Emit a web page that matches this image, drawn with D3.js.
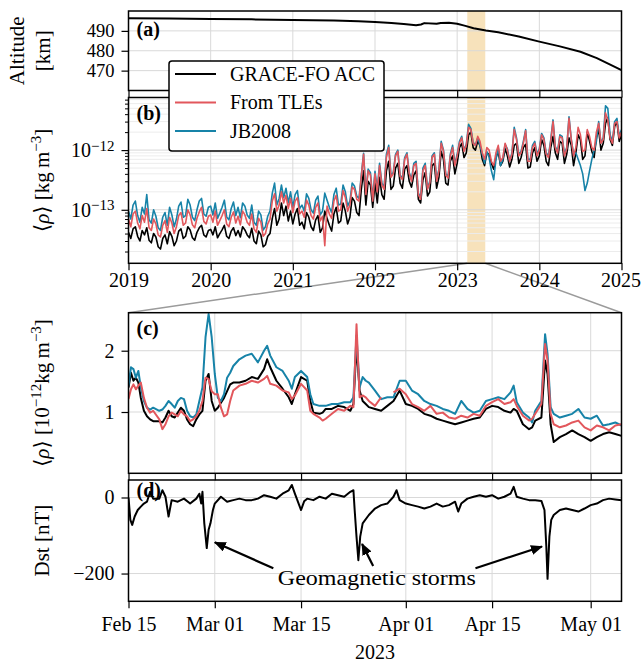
<!DOCTYPE html>
<html>
<head>
<meta charset="utf-8">
<script src="https://cdn.jsdelivr.net/npm/d3@7"></script>
<style>
  body { margin: 0; background: #fff; }
  svg { display: block; }
</style>
</head>
<body>
<script>
// ---- data ----
// (a) altitude, decimal year / km
var altYear = [2019.0, 2019.5, 2020.0, 2020.5, 2021.0, 2021.5, 2021.8, 2022.0, 2022.2, 2022.35,
               2022.5, 2022.56, 2022.6, 2022.75, 2022.8, 2022.9, 2023.0, 2023.1, 2023.2, 2023.35,
               2023.5, 2023.75, 2024.0, 2024.25, 2024.5, 2024.7, 2024.85, 2025.0];
var altKm = [496.4, 496.2, 496.0, 495.8, 495.5, 495.2, 494.9, 494.5, 494.0, 493.4,
             492.8, 493.2, 493.9, 493.6, 494.0, 494.1, 493.6, 492.5, 491.3, 490.2,
             489.3, 487.2, 484.6, 482.2, 479.5, 476.3, 473.3, 470.2];

// (b) orbit-averaged density, 1e-13 kg/m3, 36 samples per year from 2019.0 + end point
var bStart = 2019, bStep = 1 / 36;
var bGrace = [
  0.42,0.33,0.48,0.52,0.36,0.30,0.45,0.38,0.50,0.31,0.28,0.40,0.35,0.24,0.22,0.33,0.38,0.27,0.43,0.36,0.25,0.30,0.44,0.48,0.33,0.36,0.52,0.46,0.34,0.31,0.42,0.50,0.55,0.38,0.35,0.45,
  0.47,0.38,0.52,0.34,0.40,0.46,0.55,0.36,0.33,0.44,0.50,0.37,0.45,0.35,0.52,0.46,0.38,0.34,0.49,0.30,0.27,0.44,0.38,0.24,0.26,0.36,0.40,0.72,1.05,0.55,0.70,1.30,0.80,1.15,0.65,0.95,
  0.58,0.85,1.05,0.55,0.62,0.48,0.90,0.75,0.52,0.45,0.68,0.80,0.42,0.50,0.95,0.72,0.55,0.44,0.85,1.10,0.60,0.65,1.30,0.95,0.58,0.75,1.60,1.40,0.90,0.80,2.20,4.50,1.20,3.00,2.60,1.10,
  2.8,1.3,3.5,1.8,1.5,4.5,6.5,2.2,2.5,5.0,6.0,2.8,2.3,4.8,5.5,3.0,2.4,3.8,4.5,1.5,1.3,3.2,4.2,1.7,2.0,5.5,6.0,2.3,3.5,9.5,7.0,2.8,2.6,6.5,8.0,4.0,
  6.0,11.0,13.0,7.5,9.0,18.0,20.0,11.0,10.0,14.0,12.0,7.0,5.5,9.0,8.5,6.0,4.8,7.5,9.5,5.5,6.5,10.5,8.0,5.2,7.0,12.0,13.0,6.0,7.5,11.0,12.5,5.0,5.2,9.0,11.0,6.5,
  8.0,15.0,12.0,6.5,5.5,11.0,17.0,9.0,7.0,14.0,13.0,6.0,8.5,16.0,12.0,5.5,9.0,18.0,15.0,7.0,8.0,20.0,14.0,9.5,7.5,16.0,22.0,10.0,13.0,28.0,35.0,15.0,12.0,25.0,30.0,14.0,
  18.0];
var bTle = [
  0.70,0.52,0.85,0.95,0.60,0.48,0.80,0.62,1.05,0.50,0.45,0.70,0.58,0.38,0.35,0.55,0.66,0.42,0.75,0.60,0.40,0.52,0.80,0.90,0.55,0.60,1.00,0.82,0.56,0.50,0.72,0.92,1.10,0.64,0.58,0.78,
  0.82,0.62,0.95,0.55,0.66,0.80,1.00,0.58,0.52,0.75,0.92,0.60,0.78,0.56,0.95,0.82,0.62,0.55,0.85,0.48,0.42,0.72,0.62,0.36,0.40,0.58,0.70,1.40,1.85,0.95,1.20,2.00,1.30,1.75,1.05,1.55,
  0.90,1.40,1.60,0.85,0.95,0.75,1.45,1.20,0.80,0.70,1.10,1.30,0.65,0.78,0.25,1.15,0.85,0.72,1.40,1.75,0.95,1.00,2.10,1.60,0.95,1.20,2.40,2.20,1.50,1.40,3.60,8.50,1.80,4.50,3.80,1.40,
  4.0,2.0,5.5,2.6,2.2,7.5,11.0,3.5,4.0,8.0,9.5,3.6,3.2,7.0,8.5,4.0,3.0,5.5,6.0,1.8,1.5,4.5,5.5,2.2,2.8,7.5,8.5,3.0,4.5,13.0,9.5,3.8,3.4,8.0,11.0,5.5,
  8.0,13.0,16.0,9.5,12.0,24.0,22.0,13.0,12.0,17.0,14.0,9.0,7.0,11.0,10.0,6.5,5.5,9.0,12.0,6.5,7.5,13.0,10.0,6.5,8.5,22.0,15.0,8.0,9.0,13.0,21.0,6.5,6.5,11.0,13.0,8.0,
  10.0,18.0,15.0,8.5,7.5,14.0,30.0,11.0,9.0,17.0,16.0,8.0,10.5,34.0,15.0,8.0,11.0,24.0,18.0,9.5,10.0,22.0,17.0,11.0,10.0,20.0,28.0,13.0,15.0,42.0,32.0,16.0,13.0,28.0,30.0,16.0,
  20.0];
var bJb = [
  0.95,0.70,1.20,1.40,0.80,0.62,1.10,0.85,1.80,0.68,0.60,1.00,0.78,0.50,0.45,0.75,0.90,0.55,1.10,0.82,0.52,0.70,1.15,1.35,0.75,0.80,1.50,1.20,0.75,0.66,1.00,1.40,1.55,0.85,0.78,1.10,
  1.15,0.82,1.30,0.72,0.88,1.10,1.45,0.76,0.68,1.05,1.35,0.80,1.10,0.74,1.30,1.15,0.82,0.72,1.20,0.62,0.55,0.95,0.82,0.46,0.52,0.78,0.95,1.90,2.80,1.20,1.55,2.60,1.60,2.30,1.30,2.00,
  1.10,1.80,2.10,1.05,1.20,0.95,1.85,1.55,1.00,0.88,1.45,1.70,0.82,0.95,1.90,1.45,1.10,0.90,1.80,2.30,1.20,1.25,2.60,2.00,1.15,1.40,2.80,2.50,1.70,1.55,3.80,8.80,2.00,4.80,4.20,1.55,
  4.4,2.2,6.0,2.8,2.4,8.5,12.0,3.8,4.2,8.5,10.0,3.8,3.4,7.5,9.0,4.2,3.2,6.0,6.5,1.9,1.6,5.0,6.0,2.3,3.0,8.0,9.0,3.2,4.8,14.0,10.0,4.0,3.6,8.5,12.0,5.8,
  8.5,14.0,17.0,10.0,12.5,27.0,23.0,13.5,12.0,16.0,12.0,8.5,6.0,9.5,7.5,4.5,3.2,7.0,11.0,5.5,7.0,12.5,10.5,6.5,9.0,24.0,16.0,8.5,9.5,14.0,22.0,7.0,7.0,12.0,14.0,8.5,
  10.5,19.0,16.0,9.0,8.0,15.0,32.0,11.5,9.5,18.0,17.0,8.5,11.0,36.0,15.0,8.5,9.0,7.0,5.5,4.0,2.1,2.8,4.5,7.0,10.0,14.0,30.0,13.0,16.0,55.0,50.0,18.0,14.0,30.0,34.0,17.0,
  22.0];

// (c) zoom, days after 2023-02-15, density in 1e-12 kg/m3 (null = gap)
var cDays = [0,0.4,0.8,1.2,1.6,2,2.5,3,3.5,4,
  5,5.5,6,6.5,7,7.5,8,8.5,9,9.5,
  10,10.5,11,11.5,12,12.5,13,13.5,14,14.5,
  15,15.5,16,16.5,17,18,19,20,21,22,
  22.5,23,24,25,26,26.5,27,28,29,29.5,
  30,31,31.5,32,33,34,35,36,36.5,37,
  37.5,38,38.5,39,40,41,42,43,44,45,
  46,47,48,49,50,51,52,53,54,55,
  56,57,58,59,60,61,62,62.5,63,64,
  65,65.5,66,67,67.6,68,68.5,69,70,71,
  72,73,74,75,76,77,78,79,80];
var cGrace = [1.40,1.64,1.51,1.56,1.48,1.23,1.02,0.93,0.88,0.85,
  0.85,0.83,0.91,1.02,0.93,0.91,0.99,1.07,1.02,0.88,
  0.80,0.77,0.88,0.96,1.02,1.51,1.62,1.18,1.02,1.07,
  1.15,1.23,1.34,1.45,1.48,1.48,1.51,1.57,1.54,1.70,
  1.86,1.73,1.51,1.38,1.24,1.13,1.29,1.57,1.51,1.18,
  0.99,0.97,0.99,1.05,1.05,1.10,1.08,1.02,1.13,2.08,
  1.35,1.18,1.13,1.08,1.05,1.02,1.10,1.18,1.35,1.13,
  1.10,1.05,0.97,0.94,0.89,0.86,0.83,0.80,0.83,0.86,
  0.89,0.91,1.05,1.10,1.08,1.02,0.99,1.05,1.02,0.80,
  0.72,0.75,0.86,0.91,1.84,1.62,0.80,0.51,0.59,0.64,
  0.70,0.64,0.59,0.53,0.59,0.64,0.67,0.64,0.61];
var cTle = [1.21,1.37,1.45,1.37,1.43,1.48,1.23,1.07,0.99,1.02,
  0.88,0.72,0.80,0.93,0.99,0.96,0.93,1.02,0.96,0.93,
  0.85,0.88,0.93,1.02,1.18,1.56,1.54,1.34,1.29,1.29,
  1.07,0.93,0.96,1.18,1.35,1.43,1.46,1.51,1.48,1.54,
  1.59,1.46,1.43,1.35,1.32,1.21,1.27,1.46,1.35,1.02,
  0.97,0.91,0.86,0.89,0.97,1.05,1.02,1.10,1.08,2.43,
  1.24,1.27,1.24,1.18,1.10,1.24,null,1.32,1.38,1.29,
  1.13,1.08,1.02,1.10,0.97,0.99,0.91,0.89,0.94,0.91,
  0.97,0.94,1.10,1.16,1.21,1.13,1.16,1.21,1.10,0.94,
  0.86,0.89,0.97,1.13,2.11,1.84,0.97,0.80,0.75,0.78,
  0.83,0.86,0.75,0.70,0.78,0.75,0.70,0.78,0.80];
var cJb = [1.43,1.73,1.70,1.56,1.67,1.40,1.18,1.07,1.04,1.07,
  1.02,1.04,1.10,1.18,1.13,1.07,1.18,1.23,1.21,1.02,
  0.93,0.91,0.96,1.18,1.40,2.22,2.60,2.22,1.62,1.23,
  1.18,1.29,1.56,1.64,1.75,1.86,1.92,1.95,1.81,2.00,
  2.08,1.92,1.73,1.67,1.51,1.38,1.57,1.67,1.57,1.29,
  1.13,1.10,1.10,1.10,1.13,1.13,1.16,1.16,1.24,2.25,
  1.40,1.57,1.51,1.48,1.35,1.21,1.24,1.24,1.51,1.51,
  1.35,1.29,1.18,1.13,1.10,1.05,1.02,0.97,1.18,1.05,
  0.99,1.02,1.18,1.21,1.24,1.21,1.32,1.43,1.16,0.99,
  0.91,0.83,1.02,1.18,2.27,1.95,1.08,0.97,0.91,0.94,
  0.97,1.05,0.91,0.89,0.94,0.78,0.80,0.83,0.78];

// (d) Dst index, days after 2023-02-15 / nT
var dDays = [0,0.3,0.6,1,1.5,2,2.5,3,3.5,4,
  5,5.5,6,6.5,7,8,9,10,11,11.5,
  11.8,12,12.3,12.7,13,13.3,13.7,14,15,16,
  17,18,19,20,21,22,23,24,25,26,
  26.5,27,28,28.5,29,30,31,32,33,34,
  35,36,36.5,36.7,37,37.3,37.6,38,39,40,
  41,42,43,43.5,44,45,46,47,48,49,
  50,51,52,53,53.5,54,55,56,57,58,
  59,60,61,62,62.5,63,64,65,66,67,
  67.5,67.8,68,68.3,68.6,69,70,71,72,73,
  74,75,76,77,78,79,80];
var dDst = [0,-59,-72,-50,-33,-24,-16,-11,15,-3,
  -3,19,2,-50,-7,-11,-3,-16,-3,10,
  -16,15,-68,-133,-85,-68,-33,-16,2,-11,
  -7,-3,-7,-7,-3,6,2,-3,10,19,
  33,10,-33,-10,-3,-7,2,-3,10,6,
  2,15,19,-33,-103,-165,-103,-68,-46,-29,
  -20,-16,2,19,-7,-16,-20,-24,-29,-24,
  -16,-24,-20,-11,-37,-16,-3,2,6,2,
  6,-3,2,10,28,2,-3,-7,-7,-9,
  -33,-129,-214,-103,-59,-46,-33,-29,-33,-37,
  -29,-20,-16,-7,-3,-5,-7];

// storm annotation arrows: tail -> head, in (day, nT)
var stormTail = [[23.5, -186], [39.7, -180], [56.3, -186]];
var stormHead = [[14.0, -118], [37.9, -122], [67.1, -129]];

var seriesNames = ["GRACE-FO ACC", "From TLEs", "JB2008"];
var seriesColors = ["#000000", "#e2575c", "#1783a8"];
var yearTicks = [2019, 2020, 2021, 2022, 2023, 2024, 2025];
var dateTicks = ["2023-02-15", "2023-03-01", "2023-03-15", "2023-04-01", "2023-04-15", "2023-05-01"];
var zoomRange = [2023.123, 2023.342];

// ---- layout ----
var FONT = "'Liberation Serif', 'DejaVu Serif', serif";
var FS = 20;
var W = 641, H = 664, L = 128.5, R = 621.5;
var pa = {top: 11, bottom: 90.5},
    pb = {top: 97.5, bottom: 263.3},
    pc = {top: 312.7, bottom: 473.3},
    pd = {top: 480, bottom: 601.3};

var svg = d3.select("body").append("svg")
    .attr("width", W).attr("height", H)
    .attr("font-family", FONT);

var DAY = 864e5, t0 = Date.UTC(2023, 1, 15);
var xYear = d3.scaleLinear().domain([2019, 2025]).range([L, R]);
var xDate = d3.scaleUtc().domain([new Date(t0), new Date(t0 + 80 * DAY)]).range([L, R]);
var yAlt = d3.scaleLinear().domain([460, 500]).range([pa.bottom, pa.top]);
var yRho = d3.scaleLog().domain([1.27e-14, 7.6e-12]).range([pb.bottom, pb.top]);
var yRhoC = d3.scaleLinear().domain([0, 2.62]).range([pc.bottom, pc.top]);
var yDst = d3.scaleLinear().domain([-273, 46]).range([pd.bottom, pd.top]);
var dayDate = function(d) { return new Date(t0 + d * DAY); };
var dTicks = dateTicks.map(function(s) { return new Date(s + "T00:00:00Z"); });

// clip paths and arrow head
var defs = svg.append("defs");
[["ca", pa], ["cb", pb], ["cc", pc], ["cd", pd]].forEach(function(p) {
  defs.append("clipPath").attr("id", p[0]).append("rect")
    .attr("x", L).attr("y", p[1].top).attr("width", R - L).attr("height", p[1].bottom - p[1].top);
});
defs.append("marker").attr("id", "arrow")
    .attr("viewBox", "0 0 12 10").attr("refX", 11).attr("refY", 5)
    .attr("markerWidth", 12).attr("markerHeight", 10)
    .attr("markerUnits", "userSpaceOnUse").attr("orient", "auto")
  .append("path").attr("d", "M0,0 L12,5 L0,10 Z").attr("fill", "#000");

// highlight of the zoomed interval
[pa, pb].forEach(function(p) {
  svg.append("rect")
    .attr("x", xYear(zoomRange[0])).attr("y", p.top)
    .attr("width", xYear(zoomRange[1]) - xYear(zoomRange[0]))
    .attr("height", p.bottom - p.top)
    .attr("fill", "#f7e2bb");
});

// grids
function hGrid(vals, y, color) {
  svg.append("g").selectAll("line").data(vals).join("line")
    .attr("x1", L).attr("x2", R).attr("y1", y).attr("y2", y)
    .attr("stroke", color).attr("stroke-width", 1);
}
function vGrid(vals, x, p) {
  svg.append("g").selectAll("line").data(vals).join("line")
    .attr("x1", x).attr("x2", x).attr("y1", p.top).attr("y2", p.bottom)
    .attr("stroke", "#d9d9d9").attr("stroke-width", 1);
}
var rhoMinor = [];
[-14, -13, -12].forEach(function(e) {
  for (var m = 2; m <= 9; m++) {
    var v = m * Math.pow(10, e);
    if (v > yRho.domain()[0] && v < yRho.domain()[1]) rhoMinor.push(v);
  }
});
hGrid([470, 480, 490], yAlt, "#d9d9d9");
vGrid(yearTicks, xYear, pa);
hGrid(rhoMinor, yRho, "#ececec");
hGrid([1e-13, 1e-12], yRho, "#d6d6d6");
vGrid(yearTicks, xYear, pb);
hGrid([1, 2], yRhoC, "#d9d9d9");
vGrid(dTicks, xDate, pc);
hGrid([0, -200], yDst, "#d9d9d9");
vGrid(dTicks, xDate, pd);

// zoom connectors
svg.append("g").selectAll("line")
  .data([[zoomRange[0], L], [zoomRange[1], R]]).join("line")
  .attr("x1", function(d) { return xYear(d[0]); }).attr("y1", pb.bottom)
  .attr("x2", function(d) { return d[1]; }).attr("y2", pc.top)
  .attr("stroke", "#9b9b9b").attr("stroke-width", 1.5);

// data lines
function drawLine(xs, ys, x, y, clip, color, w) {
  var pts = xs.map(function(d, i) { return [d, ys[i]]; });
  var line = d3.line()
    .defined(function(d) { return d[1] != null; })
    .x(function(d) { return x(d[0]); })
    .y(function(d) { return y(d[1]); });
  svg.append("path").datum(pts)
    .attr("clip-path", "url(#" + clip + ")")
    .attr("d", line).attr("fill", "none")
    .attr("stroke", color).attr("stroke-width", w)
    .attr("stroke-linejoin", "round");
}
drawLine(altYear, altKm, xYear, yAlt, "ca", "#000", 2);

var bYears = bGrace.map(function(d, i) { return bStart + i * bStep; });
var yB = function(v) { return yRho(v * 1e-13); };
drawLine(bYears, bGrace, xYear, yB, "cb", seriesColors[0], 1.6);
drawLine(bYears, bJb, xYear, yB, "cb", seriesColors[2], 1.6);
drawLine(bYears, bTle, xYear, yB, "cb", seriesColors[1], 1.6);

var cDates = cDays.map(dayDate);
drawLine(cDates, cGrace, xDate, yRhoC, "cc", seriesColors[0], 2);
drawLine(cDates, cJb, xDate, yRhoC, "cc", seriesColors[2], 2);
drawLine(cDates, cTle, xDate, yRhoC, "cc", seriesColors[1], 2);

drawLine(dDays.map(dayDate), dDst, xDate, yDst, "cd", "#000", 2);

// frames
[pa, pb, pc, pd].forEach(function(p) {
  svg.append("rect").attr("x", L).attr("y", p.top)
    .attr("width", R - L).attr("height", p.bottom - p.top)
    .attr("fill", "none").attr("stroke", "#000").attr("stroke-width", 1.5);
});

// axes
function styleAxis(g, fs) {
  g.attr("font-family", FONT).attr("font-size", fs || FS);
  g.select(".domain").remove();
  g.selectAll(".tick line").attr("stroke", "#000").attr("stroke-width", 1.2);
  g.selectAll(".tick text").attr("fill", "#000");
  return g;
}
function xAxis(scale, ticks, p, fmt, labelY) {
  var g = svg.append("g").attr("transform", "translate(0," + p.bottom + ")")
    .call(d3.axisBottom(scale).tickValues(ticks).tickSize(7).tickFormat(fmt || ""));
  styleAxis(g);
  if (labelY) g.selectAll(".tick text").attr("y", labelY).attr("dy", null);
  return g;
}
xAxis(xYear, yearTicks, pa);
var gYears = xAxis(xYear, yearTicks, pb, d3.format("d"), 24.2);
gYears.selectAll(".tick text").filter(function(d) { return d === 2025; }).attr("x", -1);
xAxis(xDate, dTicks, pc);
xAxis(xDate, dTicks, pd, d3.utcFormat("%b %d"), 29.7);

function yAxis(scale, ticks, fmt, fs) {
  var g = svg.append("g").attr("transform", "translate(" + L + ",0)")
    .call(d3.axisLeft(scale).tickValues(ticks).tickSize(7).tickPadding(7).tickFormat(fmt || ""));
  return styleAxis(g, fs);
}
yAxis(yAlt, [470, 480, 490], d3.format("d"), 18.5);
yAxis(yRhoC, [1, 2], d3.format("d"));
yAxis(yDst, [0, -200], function(d) { return d < 0 ? "\u2212" + (-d) : d; });
yAxis(yRho, rhoMinor).selectAll(".tick line").attr("x2", -3.5).attr("stroke-width", 1);
var gRho = yAxis(yRho, [1e-13, 1e-12], d3.format(".0e"));
gRho.selectAll(".tick text").text(null).each(function(d) {
  var t = d3.select(this);
  t.append("tspan").text("10");
  t.append("tspan").attr("dy", "-0.42em").attr("font-size", 15)
    .text("\u2212" + Math.abs(Math.round(Math.log10(d))));
});

// axis titles
function yTitle(x, y, build) {
  var t = svg.append("text")
    .attr("transform", "translate(" + x + "," + y + ") rotate(-90)")
    .attr("text-anchor", "middle").attr("dy", "0.35em")
    .attr("font-size", 21).attr("fill", "#000");
  build(t);
}
function sup(t, s) {
  t.append("tspan").attr("dy", -8).attr("font-size", 15).text(s);
  return t.append("tspan").attr("dy", 8);
}
var midA = (pa.top + pa.bottom) / 2, midB = (pb.top + pb.bottom) / 2,
    midC = (pc.top + pc.bottom) / 2, midD = (pd.top + pd.bottom) / 2;
yTitle(17, midA, function(t) { t.text("Altitude"); });
yTitle(43, midA, function(t) { t.text("[km]"); });
yTitle(42, midB, function(t) {
  t.append("tspan").text("\u27E8");
  t.append("tspan").attr("font-style", "italic").text("\u03C1");
  t.append("tspan").text("\u27E9 [kg\u2009m");
  sup(t, "\u22123").text("]");
});
yTitle(42, midC, function(t) {
  t.append("tspan").text("\u27E8");
  t.append("tspan").attr("font-style", "italic").text("\u03C1");
  t.append("tspan").text("\u27E9 [10");
  var r = sup(t, "\u221212");
  r.text("kg\u2009m");
  sup(t, "\u22123").text("]");
});
yTitle(42, midD, function(t) { t.text("Dst [nT]"); });

svg.append("text").attr("x", (L + R) / 2).attr("y", 659)
  .attr("text-anchor", "middle").attr("font-size", FS).text("2023");

// panel labels
[["(a)", pa.top + 25], ["(b)", pb.top + 22], ["(c)", pc.top + 22], ["(d)", pd.top + 17]].forEach(function(p) {
  svg.append("text").attr("x", 136.5).attr("y", p[1])
    .attr("font-size", 20).attr("font-weight", "bold").text(p[0]);
});

// storm annotation
svg.append("g").selectAll("line").data(stormTail).join("line")
  .attr("x1", function(d) { return xDate(dayDate(d[0])); })
  .attr("y1", function(d) { return yDst(d[1]); })
  .attr("x2", function(d, i) { return xDate(dayDate(stormHead[i][0])); })
  .attr("y2", function(d, i) { return yDst(stormHead[i][1]); })
  .attr("stroke", "#000").attr("stroke-width", 2.2)
  .attr("marker-end", "url(#arrow)");
svg.append("text")
  .attr("x", xDate(dayDate(40.3))).attr("y", yDst(-229))
  .attr("text-anchor", "middle").attr("font-size", 21)
  .attr("textLength", 198).attr("lengthAdjust", "spacingAndGlyphs")
  .text("Geomagnetic storms");

// legend
var lg = svg.append("g").attr("transform", "translate(169,61)");
lg.append("rect").attr("width", 215).attr("height", 90).attr("rx", 3)
  .attr("fill", "#fff").attr("stroke", "#000").attr("stroke-width", 1.5);
var rows = lg.selectAll("g.row").data(seriesNames).join("g")
  .attr("class", "row")
  .attr("transform", function(d, i) { return "translate(0," + (13 + i * 28.5) + ")"; });
rows.append("line").attr("x1", 6).attr("x2", 47)
  .attr("stroke", function(d, i) { return seriesColors[i]; }).attr("stroke-width", 2);
rows.append("text").attr("x", 61).attr("y", 6.8)
  .attr("font-size", 20).text(function(d) { return d; });
</script>
</body>
</html>
